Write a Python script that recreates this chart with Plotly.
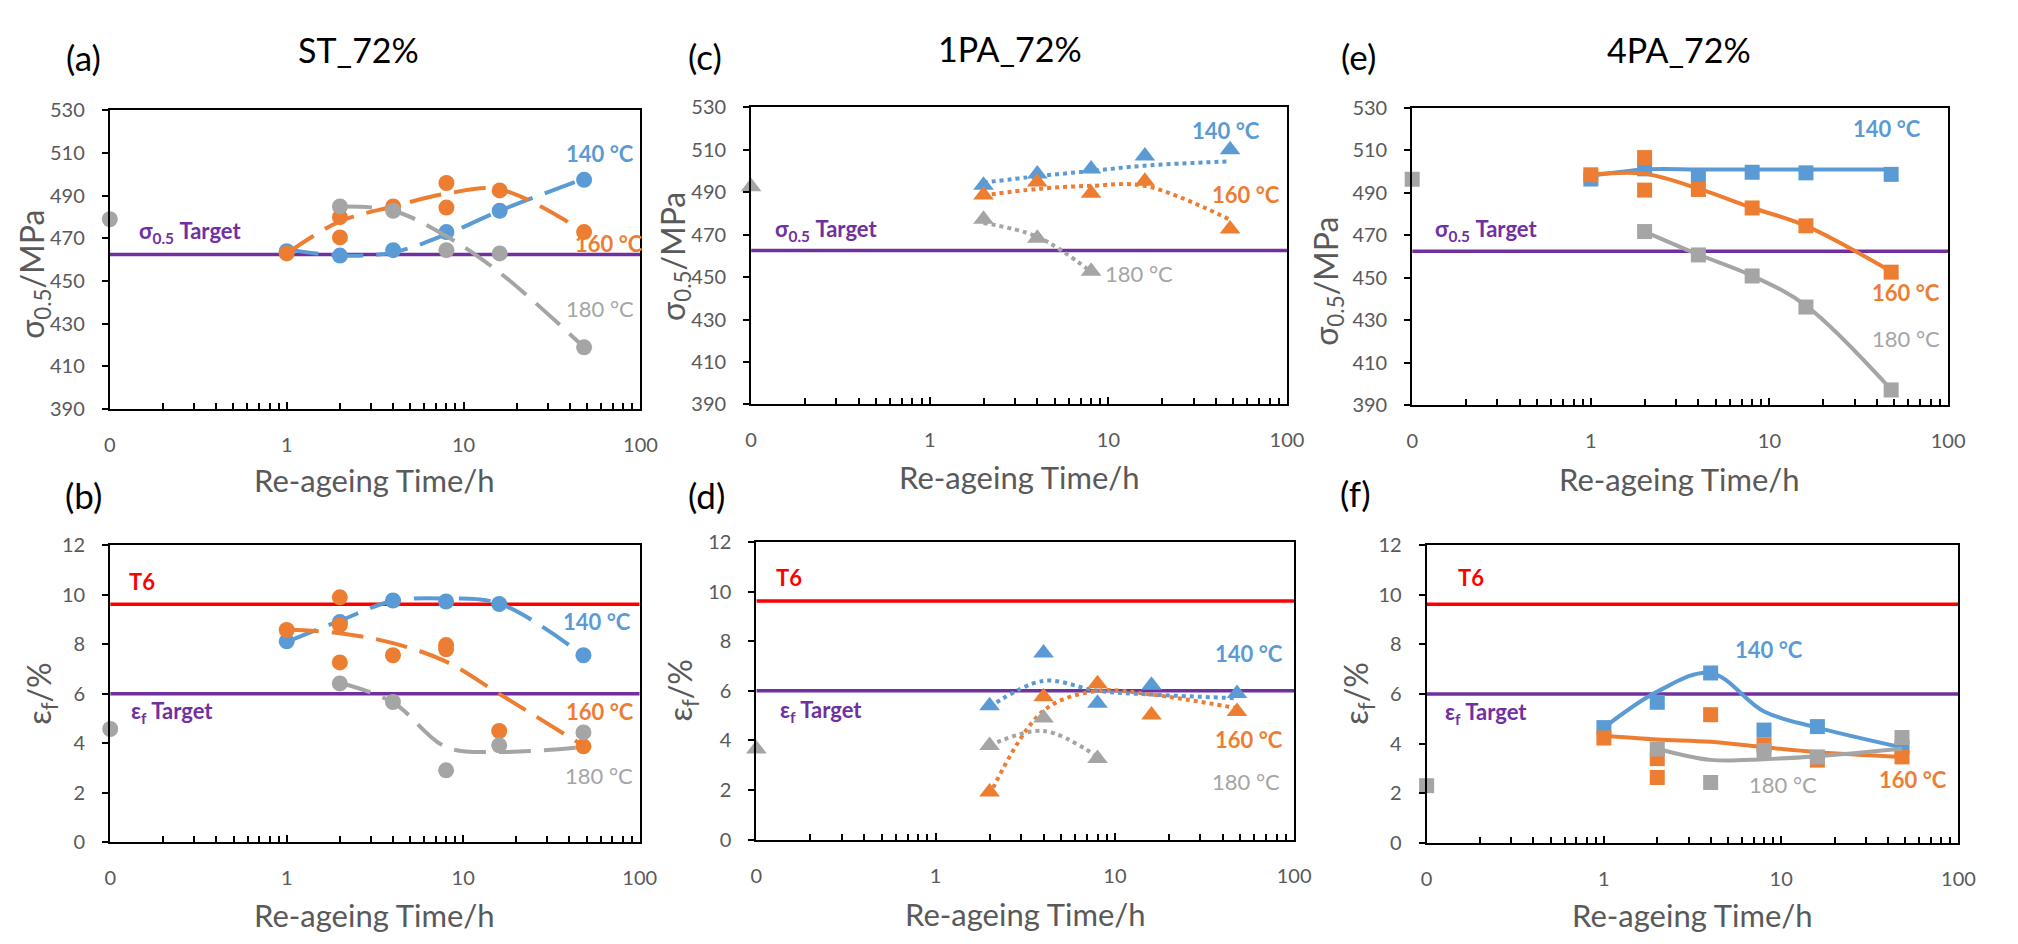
import math
import plotly.graph_objects as go

W, H = 2018, 944
FONT = "Lato, 'Open Sans', sans-serif"
BLUE, ORANGE, GRAY = "#5B9BD5", "#ED7D31", "#A5A5A5"
PURPLE, RED, TXT = "#7030A0", "#FF0000", "#595959"

# ---------------- data ----------------
T0 = 0.1  # the "0 h" condition sits at the left end of the log axis (labelled "0")

SIGMA_TARGET = 462.5
EPS_TARGET = 6.0
T6_EPS = 9.62

# (a) ST_72%  yield strength (MPa)
a140_x = [1, 2, 4, 8, 16, 48]
a140_y = [464, 462, 464.5, 473, 483, 497.5]
a140_fx = [1, 2, 4, 8, 16, 48]
a140_fy = [465, 462, 463.5, 472, 483, 498]
a160_x = [1, 2, 2, 4, 8, 8, 16, 48]
a160_y = [463, 480, 470.5, 485, 496, 484.5, 492.5, 473]
a160_fx = [1, 2, 4, 8, 16, 48]
a160_fy = [463, 478, 485, 491, 493, 473]
a180_x = [T0, 2, 4, 8, 16, 48]
a180_y = [479, 485, 483, 464.5, 463, 419]
a180_fx = [2, 4, 8, 16, 48]
a180_fy = [485, 483, 471, 454, 419]

# (b) ST_72%  elongation (%)
b140_x = [1, 2, 4, 8, 16, 48]
b140_y = [8.12, 8.9, 9.77, 9.73, 9.63, 7.56]
b140_fx = [1, 2, 4, 8, 16, 48]
b140_fy = [8.1, 8.95, 9.75, 9.85, 9.65, 7.55]
b160_x = [1, 2, 2, 2, 4, 8, 8, 16, 48]
b160_y = [8.58, 9.9, 8.78, 7.27, 7.56, 7.97, 7.8, 4.5, 3.88]
b160_fx = [1, 2, 4, 8, 16, 48]
b160_fy = [8.6, 8.45, 8.05, 7.3, 6.0, 3.9]
b180_x = [T0, 2, 4, 8, 16, 48]
b180_y = [4.58, 6.42, 5.67, 2.91, 3.92, 4.44]
b180_fx = [2, 4, 8, 16, 48]
b180_fy = [6.45, 5.65, 3.85, 3.65, 3.85]

# (c) 1PA_72%  yield strength (MPa)
c140_x = [2, 4, 8, 16, 48]
c140_y = [493.3, 498.6, 500.9, 507, 510]
c140_fx = [2, 4, 8, 16, 48]
c140_fy = [494.5, 497.5, 500, 502.5, 504.5]
c160_x = [2, 4, 8, 16, 48]
c160_y = [488.7, 494.8, 489.5, 495.1, 472.6]
c160_fx = [2, 4, 8, 16, 48]
c160_fy = [488.5, 491.5, 493, 493, 477]
c180_x = [T0, 2, 4, 8]
c180_y = [492.5, 477.2, 468.3, 452.7]
c180_fx = [2, 4, 8]
c180_fy = [475.5, 469, 452.5]

# (d) 1PA_72%  elongation (%)
d140_x = [2, 4, 8, 16, 48]
d140_y = [5.4, 7.52, 5.5, 6.22, 5.89]
d140_fx = [2, 4, 8, 16, 48]
d140_fy = [5.35, 6.4, 6.0, 5.85, 5.7]
d160_x = [2, 4, 8, 16, 48]
d160_y = [1.92, 5.76, 6.28, 5.03, 5.17]
d160_fx = [2, 4, 8, 16, 48]
d160_fy = [1.8, 5.2, 6.0, 5.85, 5.3]
d180_x = [T0, 2, 4, 8]
d180_y = [3.66, 3.8, 4.9, 3.27]
d180_fx = [2, 4, 8]
d180_fy = [3.8, 4.38, 3.34]

# (e) 4PA_72%  yield strength (MPa)
e140_x = [1, 2, 4, 8, 16, 48]
e140_y = [496.5, 501.3, 498.2, 499.7, 499.4, 498.7]
e140_fx = [1, 2, 4, 8, 16, 48]
e140_fy = [498, 501, 501, 501, 501, 501]
e160_x = [1, 2, 2, 4, 8, 16, 48]
e160_y = [498.5, 506.6, 491.3, 491.6, 482.9, 474.5, 452.7]
e160_fx = [1, 2, 4, 8, 16, 48]
e160_fy = [498.5, 499, 492, 483, 474.5, 453]
e180_x = [T0, 2, 4, 8, 16, 48]
e180_y = [496.4, 471.8, 460.8, 450.9, 436.3, 397.3]
e180_fx = [2, 4, 8, 16, 48]
e180_fy = [471.8, 461, 451, 437, 397.5]

# (f) 4PA_72%  elongation (%)
f140_x = [1, 2, 4, 8, 16, 48]
f140_y = [4.65, 5.67, 6.85, 4.55, 4.69, 3.86]
f140_fx = [1, 2, 4, 8, 16, 48]
f140_fy = [4.65, 6.1, 6.85, 5.3, 4.65, 3.85]
f160_x = [1, 2, 2, 4, 8, 16, 48]
f160_y = [4.23, 3.4, 2.64, 5.17, 3.95, 3.34, 3.47]
f160_fx = [1, 2, 4, 8, 16, 48]
f160_fy = [4.32, 4.17, 4.08, 3.86, 3.66, 3.47]
f180_x = [T0, 2, 4, 8, 16, 48]
f180_y = [2.31, 3.79, 2.44, 3.73, 3.47, 4.25]
f180_fx = [2, 4, 8, 16, 48]
f180_fy = [3.8, 3.35, 3.38, 3.5, 3.8]

x_tickvals = [0.1, 1, 10, 100]
x_ticktext = ["0", "1", "10", "100"]
sigma_ticks = [390, 410, 430, 450, 470, 490, 510, 530]
eps_ticks = [0, 2, 4, 6, 8, 10, 12]

# ---------------- layout helpers ----------------
LONGDASH = "32px,13px"
TICK_FS = 20
AXT_FS = 31
YT_FS = 32
TTL_FS = 34
LET_FS = 35
ANN_FS = 22

panels = [
    dict(n=1, letter="(a)", title="ST_72%", kind="sigma", box=(105, 641.8, 100, 406.5),
         symbol="circle", msize=16, dash=LONGDASH, lw=4,
         series=[(BLUE, a140_x, a140_y, a140_fx, a140_fy),
                 (ORANGE, a160_x, a160_y, a160_fx, a160_fy),
                 (GRAY, a180_x, a180_y, a180_fx, a180_fy)],
         labels=[("140 °C", BLUE, 1.77, 510, True), ("160 °C", ORANGE, 1.82, 467.6, True),
                 ("180 °C", GRAY, 1.77, 437, False)],
         tgt=(-0.545, 473), t6=None,
         ytitle=(29, 268), xtitle=(373, 479), lett=(78, 45), ttl=(357, 37)),
    dict(n=2, letter="(b)", title=None, kind="eps", box=(105.4, 641, 546.2, 851),
         symbol="circle", msize=16, dash=LONGDASH, lw=4,
         series=[(BLUE, b140_x, b140_y, b140_fx, b140_fy),
                 (ORANGE, b160_x, b160_y, b160_fx, b160_fy),
                 (GRAY, b180_x, b180_y, b180_fx, b180_fy)],
         labels=[("140 °C", BLUE, 1.758, 8.91, True), ("160 °C", ORANGE, 1.775, 5.3, True),
                 ("180 °C", GRAY, 1.77, 2.7, False)],
         tgt=(-0.647, 5.27), t6=(-0.817, 10.55),
         ytitle=(36, 698), xtitle=(373, 926), lett=(78, 495), ttl=None),
    dict(n=3, letter="(c)", title="1PA_72%", kind="sigma", box=(753.7, 1295.8, 96.7, 401.7),
         symbol="triangle-up", msize=18, dash="dot", lw=4,
         series=[(BLUE, c140_x, c140_y, c140_fx, c140_fy),
                 (ORANGE, c160_x, c160_y, c160_fx, c160_fy),
                 (GRAY, c180_x, c180_y, c180_fx, c180_fy)],
         labels=[("140 °C", BLUE, 1.66, 519, True), ("160 °C", ORANGE, 1.77, 489, True),
                 ("180 °C", GRAY, 1.17, 451.7, False)],
         tgt=(-0.583, 472.2), t6=None,
         ytitle=(676, 250), xtitle=(1025, 476), lett=(707, 44), ttl=(1016, 36)),
    dict(n=4, letter="(d)", title=None, kind="eps", box=(759, 1303, 542.7, 848.3),
         symbol="triangle-up", msize=18, dash="dot", lw=4,
         series=[(BLUE, d140_x, d140_y, d140_fx, d140_fy),
                 (ORANGE, d160_x, d160_y, d160_fx, d160_fy),
                 (GRAY, d180_x, d180_y, d180_fx, d180_fy)],
         labels=[("140 °C", BLUE, 1.75, 7.5, True), ("160 °C", ORANGE, 1.75, 4.03, True),
                 ("180 °C", GRAY, 1.73, 2.35, False)],
         tgt=(-0.64, 5.17), t6=(-0.82, 10.56),
         ytitle=(684, 695), xtitle=(1031, 925), lett=(709, 495), ttl=None),
    dict(n=5, letter="(e)", title="4PA_72%", kind="sigma", box=(1422.4, 1964.5, 97.3, 402.7),
         symbol="square", msize=15, dash="solid", lw=4,
         series=[(BLUE, e140_x, e140_y, e140_fx, e140_fy),
                 (ORANGE, e160_x, e160_y, e160_fx, e160_fy),
                 (GRAY, e180_x, e180_y, e180_fx, e180_fy)],
         labels=[("140 °C", BLUE, 1.656, 520.4, True), ("160 °C", ORANGE, 1.766, 442.9, True),
                 ("180 °C", GRAY, 1.766, 421.4, False)],
         tgt=(-0.586, 472.4), t6=None,
         ytitle=(1337, 275), xtitle=(1693, 478), lett=(1368, 44), ttl=(1692, 37)),
    dict(n=6, letter="(f)", title=None, kind="eps", box=(1437, 1975, 546, 851.7),
         symbol="square", msize=15, dash="solid", lw=4,
         series=[(BLUE, f140_x, f140_y, f140_fx, f140_fy),
                 (ORANGE, f160_x, f160_y, f160_fx, f160_fy),
                 (GRAY, f180_x, f180_y, f180_fx, f180_fy)],
         labels=[("140 °C", BLUE, 0.93, 7.81, True), ("160 °C", ORANGE, 1.744, 2.55, True),
                 ("180 °C", GRAY, 1.01, 2.34, False)],
         tgt=(-0.664, 5.23), t6=(-0.749, 10.69),
         ytitle=(1368, 698), xtitle=(1706, 926), lett=(1365, 493), ttl=None),
]

minor_vals = [k * 10 ** e for e in (-1, 0, 1) for k in range(2, 10)]

fig = go.Figure()
annotations = []
layout = dict(
    width=W, height=H, margin=dict(l=0, r=0, t=0, b=0),
    paper_bgcolor="white", plot_bgcolor="white", showlegend=False,
    font=dict(family=FONT, color=TXT),
)

for p in panels:
    n = p["n"]
    xa = "x" if n == 1 else f"x{n}"
    ya = "y" if n == 1 else f"y{n}"
    xkey = "xaxis" if n == 1 else f"xaxis{n}"
    ykey = "yaxis" if n == 1 else f"yaxis{n}"
    l, r, t, b = p["box"]
    sig = p["kind"] == "sigma"

    # reference lines (drawn first, under the data)
    fig.add_trace(go.Scatter(x=[0.1, 100], y=[SIGMA_TARGET if sig else EPS_TARGET] * 2,
                             mode="lines", line=dict(color=PURPLE, width=3.5),
                             xaxis=xa, yaxis=ya, hoverinfo="skip"))
    if not sig:
        fig.add_trace(go.Scatter(x=[0.1, 100], y=[T6_EPS] * 2, mode="lines",
                                 line=dict(color=RED, width=3.5), xaxis=xa, yaxis=ya,
                                 hoverinfo="skip"))

    for color, xs, ys, fx, fy in p["series"]:
        fig.add_trace(go.Scatter(x=xs, y=ys, mode="markers",
                                 marker=dict(symbol=p["symbol"], size=p["msize"], color=color,
                                             line=dict(width=0)),
                                 cliponaxis=False, xaxis=xa, yaxis=ya))
        fig.add_trace(go.Scatter(x=fx, y=fy, mode="lines",
                                 line=dict(color=color, width=p["lw"], dash=p["dash"],
                                           shape="spline", smoothing=1.0),
                                 xaxis=xa, yaxis=ya, hoverinfo="skip"))

    layout[xkey] = dict(
        domain=[l / W, r / W], anchor=ya, type="log", range=[-1, 2],
        tickmode="array", tickvals=x_tickvals, ticktext=x_ticktext,
        ticks="inside", ticklen=7, tickwidth=1.5, tickcolor="black",
        minor=dict(tickmode="array", tickvals=minor_vals, ticks="inside", ticklen=6,
                   tickwidth=1.5, tickcolor="black", showgrid=False),
        showline=True, linecolor="black", linewidth=2, mirror=True,
        showgrid=False, zeroline=False, ticklabelstandoff=17,
        tickfont=dict(family=FONT, size=TICK_FS, color=TXT),
    )
    layout[ykey] = dict(
        domain=[1 - b / H, 1 - t / H], anchor=xa,
        range=[390, 530] if sig else [0, 12],
        tickmode="array", tickvals=sigma_ticks if sig else eps_ticks,
        ticks="outside", ticklen=6, tickwidth=1.5, tickcolor="black",
        showline=True, linecolor="black", linewidth=2, mirror=True,
        showgrid=False, zeroline=False, ticklabelstandoff=13,
        tickfont=dict(family=FONT, size=TICK_FS, color=TXT),
    )

    # curve labels
    for txt, col, lx, ly, bold in p["labels"]:
        annotations.append(dict(x=lx, y=ly, xref=xa, yref=ya, showarrow=False,
                                text=f"<b>{txt}</b>" if bold else txt,
                                font=dict(family=FONT, size=ANN_FS, color=col)))
    tx, ty = p["tgt"]
    annotations.append(dict(x=tx, y=ty, xref=xa, yref=ya, showarrow=False,
                            text="<b>σ<sub>0.5</sub> Target</b>" if sig else "<b>ε<sub>f</sub> Target</b>",
                            font=dict(family=FONT, size=ANN_FS, color=PURPLE)))
    if p["t6"]:
        annotations.append(dict(x=p["t6"][0], y=p["t6"][1], xref=xa, yref=ya, showarrow=False,
                                text="<b>T6</b>", font=dict(family=FONT, size=ANN_FS, color=RED)))

    # axis titles
    yx, yy = p["ytitle"]
    annotations.append(dict(x=yx / W, y=1 - yy / H, xref="paper", yref="paper", showarrow=False,
                            textangle=-90, xanchor="center", yanchor="middle",
                            text="σ<sub>0.5</sub>/MPa" if sig else "ε<sub>f</sub>/%",
                            font=dict(family=FONT, size=YT_FS, color=TXT)))
    xx, xy = p["xtitle"]
    annotations.append(dict(x=xx / W, y=1 - xy / H, xref="paper", yref="paper", showarrow=False,
                            xanchor="center", yanchor="middle", text="Re-ageing Time/h",
                            font=dict(family=FONT, size=AXT_FS, color=TXT)))
    lx_, ly_ = p["lett"]
    annotations.append(dict(x=lx_ / W, y=1 - ly_ / H, xref="paper", yref="paper", showarrow=False,
                            xanchor="center", yanchor="middle", text=p["letter"],
                            font=dict(family=FONT, size=LET_FS, color="black")))
    if p["ttl"]:
        tx_, ty_ = p["ttl"]
        annotations.append(dict(x=tx_ / W, y=1 - ty_ / H, xref="paper", yref="paper",
                                showarrow=False, xanchor="center", yanchor="middle",
                                text=p["title"], font=dict(family=FONT, size=TTL_FS, color="black")))

layout["annotations"] = annotations
fig.update_layout(**layout)
fig.write_html("out.html")
